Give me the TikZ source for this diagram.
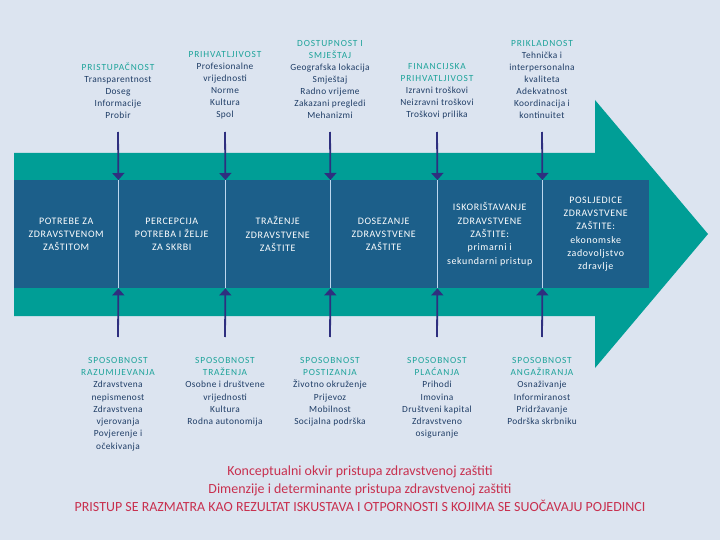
\documentclass[tikz,border=0pt]{standalone}
\usepackage{fontspec}
\setmainfont{Carlito}
\usetikzlibrary{arrows.meta}

\definecolor{bgcol}{HTML}{DCE4F0}
\definecolor{tealbody}{HTML}{009E96}
\definecolor{bandblue}{HTML}{1C5F8A}
\definecolor{divcol}{HTML}{BDD7EE}
\definecolor{arrowcol}{HTML}{2E2F7F}
\definecolor{titleteal}{HTML}{1DA39A}
\definecolor{bodynavy}{HTML}{1F3D66}
\definecolor{captionred}{HTML}{C8304F}

\begin{document}
\begin{tikzpicture}[x=1bp,y=-1bp]
\tikzset{
  toptext/.style={anchor=south,align=center,inner sep=0pt,text=bodynavy,font=\fontsize{9.4}{12}\selectfont\addfontfeature{LetterSpace=4}},
  bottext/.style={anchor=north,align=center,inner sep=0pt,text=bodynavy,font=\fontsize{9.4}{12.3}\selectfont\addfontfeature{LetterSpace=4}},
  bandbox/.style={anchor=north west,rectangle,fill=bandblue,minimum height=108bp,inner sep=0pt,align=center,text=white,font=\fontsize{10}{13.4}\selectfont\addfontfeature{LetterSpace=6}},
  divider/.style={draw=divcol,line width=1.8bp},
  flowarrow/.style={draw=arrowcol,line width=1.8bp,-{Triangle[length=7bp,width=12bp]}},
  caption/.style={align=center,inner sep=0pt,text=captionred,font=\fontsize{14}{18}\selectfont}
}
\newcommand{\ttl}[1]{{\color{titleteal}\addfontfeature{LetterSpace=9}#1}}
\useasboundingbox (0,0) rectangle (720,540);
\fill[bgcol] (0,0) rectangle (720,540);
% big arrow
\fill[tealbody] (14,153) -- (595,153) -- (595,100) -- (708,234) -- (595,368) -- (595,316) -- (14,316) -- cycle;
% band of stages
\node[bandbox,minimum width=104bp] (n_B1) at (14,180) {POTREBE ZA\\ZDRAVSTVENOM\\ZAŠTITOM};
\node[bandbox,minimum width=107bp] (n_B2) at (118,180) {PERCEPCIJA\\POTREBA I ŽELJE\\ZA SKRBI};
\node[bandbox,minimum width=105bp] (n_B3) at (225,180) {TRAŽENJE\\ZDRAVSTVENE\\ZAŠTITE};
\node[bandbox,minimum width=107bp] (n_B4) at (330,180) {DOSEZANJE\\ZDRAVSTVENE\\ZAŠTITE};
\node[bandbox,minimum width=105bp] (n_B5) at (437,180) {ISKORIŠTAVANJE\\ZDRAVSTVENE\\ZAŠTITE:\\primarni i\\sekundarni pristup};
\node[bandbox,minimum width=107bp] (n_B6) at (542,180) {POSLJEDICE\\ZDRAVSTVENE\\ZAŠTITE:\\ekonomske\\zadovoljstvo\\zdravlje};
\draw[divider] (n_B1.north east) -- (n_B1.south east);
\draw[divider] (n_B2.north east) -- (n_B2.south east);
\draw[divider] (n_B3.north east) -- (n_B3.south east);
\draw[divider] (n_B4.north east) -- (n_B4.south east);
\draw[divider] (n_B5.north east) -- (n_B5.south east);
% dimensions on top
\node[toptext] (n_T1) at (118,119) {\ttl{PRISTUPAČNOST}\\Transparentnost\\Doseg\\Informacije\\Probir};
\node[toptext] (n_T2) at (225,119) {\ttl{PRIHVATLJIVOST}\\Profesionalne\\vrijednosti\\Norme\\Kultura\\Spol};
\node[toptext] (n_T3) at (330,119) {\ttl{DOSTUPNOST I}\\\ttl{SMJEŠTAJ}\\Geografska lokacija\\Smještaj\\Radno vrijeme\\Zakazani pregledi\\Mehanizmi};
\node[toptext] (n_T4) at (437,119) {\ttl{FINANCIJSKA}\\\ttl{PRIHVATLJIVOST}\\Izravni troškovi\\Neizravni troškovi\\Troškovi prilika};
\node[toptext] (n_T5) at (542,119) {\ttl{PRIKLADNOST}\\Tehnička i\\interpersonalna\\kvaliteta\\Adekvatnost\\Koordinacija i\\kontinuitet};
\draw[flowarrow] ([yshift=-13bp]n_T1.south) -- (n_B1.north east);
\draw[flowarrow] ([yshift=-13bp]n_T2.south) -- (n_B2.north east);
\draw[flowarrow] ([yshift=-13bp]n_T3.south) -- (n_B3.north east);
\draw[flowarrow] ([yshift=-13bp]n_T4.south) -- (n_B4.north east);
\draw[flowarrow] ([yshift=-13bp]n_T5.south) -- (n_B5.north east);
% abilities below
\node[bottext] (n_S1) at (118,357) {\ttl{SPOSOBNOST}\\\ttl{RAZUMIJEVANJA}\\Zdravstvena\\nepismenost\\Zdravstvena\\vjerovanja\\Povjerenje i\\očekivanja};
\node[bottext] (n_S2) at (225,357) {\ttl{SPOSOBNOST}\\\ttl{TRAŽENJA}\\Osobne i društvene\\vrijednosti\\Kultura\\Rodna autonomija};
\node[bottext] (n_S3) at (330,357) {\ttl{SPOSOBNOST}\\\ttl{POSTIZANJA}\\Životno okruženje\\Prijevoz\\Mobilnost\\Socijalna podrška};
\node[bottext] (n_S4) at (437,357) {\ttl{SPOSOBNOST}\\\ttl{PLAĆANJA}\\Prihodi\\Imovina\\Društveni kapital\\Zdravstveno\\osiguranje};
\node[bottext] (n_S5) at (542,357) {\ttl{SPOSOBNOST}\\\ttl{ANGAŽIRANJA}\\Osnaživanje\\Informiranost\\Pridržavanje\\Podrška skrbniku};
\draw[flowarrow] ([yshift=20bp]n_S1.north) -- (n_B1.south east);
\draw[flowarrow] ([yshift=20bp]n_S2.north) -- (n_B2.south east);
\draw[flowarrow] ([yshift=20bp]n_S3.north) -- (n_B3.south east);
\draw[flowarrow] ([yshift=20bp]n_S4.north) -- (n_B4.south east);
\draw[flowarrow] ([yshift=20bp]n_S5.north) -- (n_B5.south east);
% caption
\node[caption] (n_C) at (360,489) {Konceptualni okvir pristupa zdravstvenoj zaštiti\\Dimenzije i determinante pristupa zdravstvenoj zaštiti\\PRISTUP SE RAZMATRA KAO REZULTAT ISKUSTAVA I OTPORNOSTI S KOJIMA SE SUOČAVAJU POJEDINCI};
\end{tikzpicture}
\end{document}
